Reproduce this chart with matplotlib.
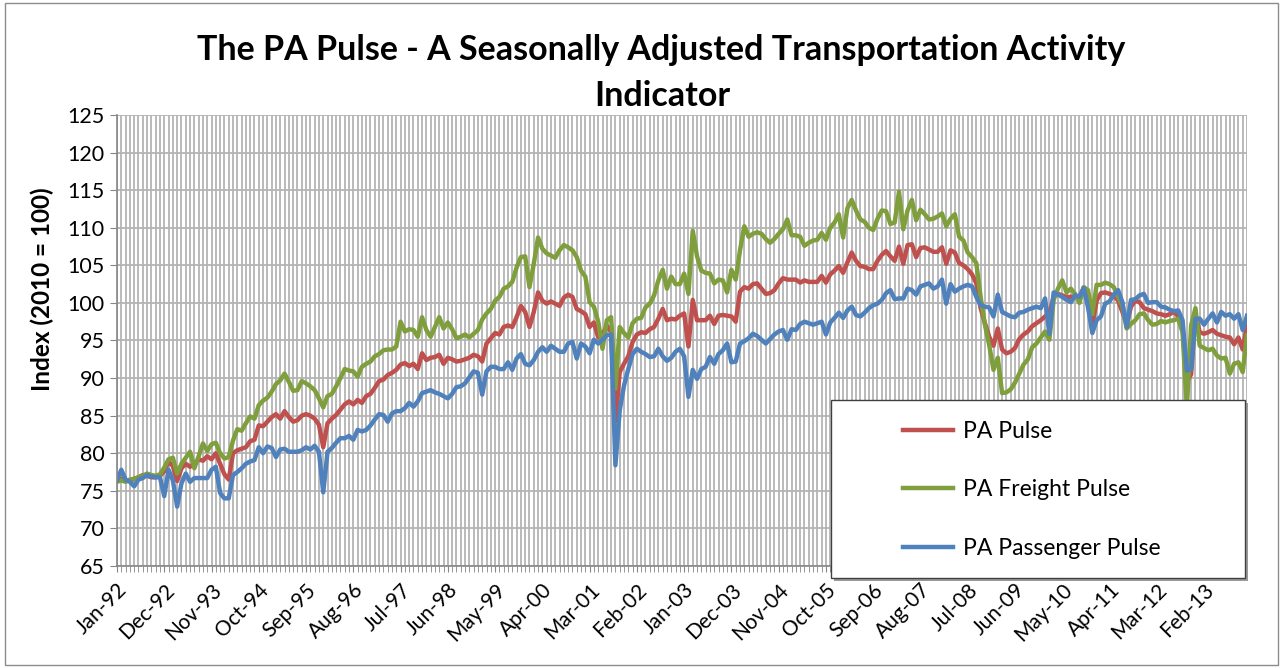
import numpy as np
import pandas as pd
import matplotlib
matplotlib.use('Agg')
import matplotlib.pyplot as plt
from matplotlib.patches import Rectangle

# monthly categories, Jan-92 .. Dec-13
months = pd.date_range('1992-01-01', periods=264, freq='MS')

tick_labels = ['Jan-92', 'Dec-92', 'Nov-93', 'Oct-94', 'Sep-95', 'Aug-96', 'Jul-97', 'Jun-98',
               'May-99', 'Apr-00', 'Mar-01', 'Feb-02', 'Jan-03', 'Dec-03', 'Nov-04', 'Oct-05',
               'Sep-06', 'Aug-07', 'Jul-08', 'Jun-09', 'May-10', 'Apr-11', 'Mar-12', 'Feb-13']

pa_pulse = [
    76.5, 76.6, 76.4, 76.3, 76.6, 76.8, 77.1, 77.0, 76.8, 76.8, 77.0, 77.6,
    78.9, 78.3, 76.3, 78.0, 78.6, 78.2, 78.6, 79.2, 79.0, 79.6, 79.2, 80.0,
    78.6, 77.2, 76.5, 80.0, 80.4, 80.6, 80.8, 81.6, 81.8, 83.7, 83.6, 84.2,
    84.8, 85.2, 84.6, 85.6, 84.8, 84.2, 84.4, 85.0, 85.2, 85.0, 84.6, 83.8,
    80.8, 84.0, 84.6, 85.1, 85.8, 86.5, 86.9, 86.5, 87.1, 86.7, 87.6, 87.9,
    88.7, 89.6, 89.8, 90.4, 90.7, 91.1, 91.8, 92.0, 91.6, 91.9, 91.2, 93.3,
    92.4, 92.7, 92.8, 93.1, 91.9, 92.7, 92.5, 92.2, 92.3, 92.5, 92.7, 93.1,
    92.9, 92.2, 94.6, 95.3, 96.0, 95.8, 96.8, 97.0, 96.8, 98.1, 99.6, 98.8,
    96.8, 98.8, 101.4, 100.3, 99.9, 100.2, 99.9, 99.6, 100.7, 101.1, 100.8, 99.2,
    98.9, 98.5, 96.8, 97.4, 95.4, 95.7, 97.0, 96.1, 84.2, 90.8, 91.9, 92.9,
    94.8, 95.8, 96.1, 96.0, 96.5, 96.8, 97.9, 99.2, 97.7, 97.9, 97.8, 98.3,
    98.6, 94.2, 100.4, 97.7, 97.7, 97.7, 98.3, 97.2, 98.3, 98.4, 98.3, 98.2,
    97.5, 101.5, 102.1, 101.9, 102.5, 102.6, 101.9, 101.2, 101.3, 101.7, 102.6, 103.3,
    103.1, 103.1, 103.1, 102.7, 103.0, 102.8, 102.8, 102.8, 103.6, 102.7, 103.8, 104.3,
    104.9, 104.0, 105.4, 106.7, 105.6, 104.9, 104.8, 104.5, 104.5, 105.6, 106.4, 106.9,
    106.2, 105.6, 107.5, 105.2, 107.7, 107.8, 106.1, 107.3, 107.4, 107.1, 106.8, 106.8,
    107.4, 105.2, 107.0, 106.7, 105.3, 105.0, 104.5, 103.8, 102.6, 99.3, 97.3, 95.5,
    94.3, 96.6, 93.8, 93.3, 93.5, 94.0, 95.2, 95.8, 96.2, 96.9, 97.3, 97.7,
    98.2, 98.6, 100.8, 101.2, 101.0, 100.8, 100.8, 100.9, 100.8, 102.0, 100.1, 97.0,
    100.3, 101.3, 101.4, 101.2, 101.0, 100.3, 98.8, 97.2, 99.5, 100.3, 100.1, 99.3,
    99.1, 98.9, 98.6, 98.5, 98.3, 98.5, 98.8, 98.2, 96.8, 89.5, 90.5, 98.5,
    96.1, 95.9, 96.1, 96.4, 95.9, 95.7, 95.5, 95.4, 94.5, 95.4, 93.8, 97.0,
]

pa_freight = [
    76.2, 76.4, 76.2, 76.5, 76.6, 76.8, 77.0, 77.3, 77.1, 77.0, 77.2, 78.1,
    79.2, 79.4, 77.3, 78.6, 79.4, 80.2, 78.0, 79.6, 81.3, 80.3, 81.2, 81.4,
    80.0, 79.3, 79.5, 81.7, 83.2, 83.0, 84.0, 84.9, 84.6, 86.4, 87.0, 87.4,
    88.2, 89.2, 89.7, 90.6, 89.5, 88.3, 88.4, 89.6, 89.3, 88.9, 88.4, 87.3,
    86.1, 87.6, 87.9, 88.9, 90.0, 91.2, 91.0, 90.9, 90.2, 91.5, 91.9, 92.2,
    92.9, 93.2, 93.7, 93.8, 93.8, 94.2, 97.5, 96.2, 96.5, 96.4, 95.5, 98.1,
    96.4, 95.5, 96.8, 98.1, 96.6, 97.4, 96.5, 95.3, 95.5, 95.8, 95.4, 95.9,
    96.4, 97.8, 98.6, 99.2, 100.3, 100.8, 101.9, 102.2, 102.8, 104.7, 106.1, 106.2,
    102.1, 105.2, 108.7, 107.2, 106.6, 106.3, 106.0, 107.0, 107.7, 107.4, 107.0, 106.1,
    104.3, 103.5, 100.1, 99.5, 97.5, 93.9, 97.7, 98.1, 88.6, 96.8, 96.0, 95.4,
    97.3, 97.9, 98.0, 99.4, 99.9, 101.0, 103.0, 104.4, 101.9, 103.5, 102.5, 102.5,
    103.9, 101.2, 109.6, 106.2, 104.3, 104.0, 103.9, 102.6, 103.1, 103.0, 101.4, 104.4,
    103.1, 107.0, 110.2, 108.8, 109.2, 109.4, 109.2, 108.5, 108.0, 108.5, 109.2, 109.8,
    111.1, 109.0, 109.0, 108.8, 107.6, 108.0, 108.3, 108.4, 109.3, 108.4, 110.0, 110.7,
    111.8, 108.7, 112.6, 113.7, 112.3, 111.1, 110.8, 110.0, 109.7, 111.2, 112.3, 112.2,
    110.5, 110.7, 114.8, 109.8, 112.3, 113.7, 111.0, 112.4, 111.8, 111.1, 111.2, 111.5,
    111.9, 110.2, 111.2, 111.8, 108.8, 108.3, 106.7, 106.1, 105.3, 100.8, 97.1, 94.4,
    91.1, 92.7, 88.0, 88.1, 88.5, 89.4, 90.6, 91.8, 92.5, 94.1, 94.6, 95.4,
    96.2, 95.1, 100.4, 101.9, 103.0, 101.4, 101.9, 101.2, 100.0, 102.1, 101.7, 98.5,
    102.4, 102.4, 102.7, 102.5, 102.1, 100.8, 99.6, 96.6, 97.2, 97.7, 98.5, 98.6,
    97.7, 97.1, 97.2, 97.6, 97.4, 97.6, 97.7, 97.9, 96.1, 86.0, 97.0, 99.3,
    94.3, 94.0, 93.7, 93.9, 93.0, 92.6, 92.7, 90.6, 91.9, 92.1, 90.8, 95.7,
]

pa_passenger = [
    76.4, 77.8, 76.5, 76.2, 75.6, 76.5, 76.7, 77.1, 76.9, 76.8, 76.8, 74.3,
    77.8, 76.4, 72.9, 76.0, 77.3, 76.2, 76.7, 76.7, 76.7, 76.7, 77.8, 78.2,
    74.7, 74.0, 74.0, 77.1, 77.5, 78.0, 78.6, 78.9, 79.1, 80.8, 80.0, 80.9,
    80.7, 79.5, 80.5, 80.6, 80.2, 80.2, 80.2, 80.4, 80.8, 80.5, 81.0, 80.2,
    74.8, 80.2, 80.7, 81.4, 82.0, 82.0, 82.3, 81.8, 83.1, 82.9, 83.1, 83.7,
    84.5, 85.2, 85.1, 84.2, 85.3, 85.6, 85.6, 86.0, 86.7, 86.2, 86.9, 88.0,
    88.2, 88.4, 88.1, 87.9, 87.6, 87.3, 87.9, 88.8, 88.9, 89.3, 90.1, 90.9,
    90.7, 87.8, 90.9, 91.5, 91.5, 91.2, 91.2, 92.1, 91.1, 92.6, 93.2, 91.9,
    91.7, 92.4, 93.5, 94.1, 93.5, 94.3, 93.9, 93.5, 93.5, 94.6, 94.8, 92.6,
    94.6, 94.2, 93.3, 95.1, 94.6, 95.1, 95.7, 95.8, 78.4, 85.7, 89.0, 91.2,
    93.2, 93.9, 93.5, 93.2, 92.8, 92.9, 93.9, 92.9, 92.3, 92.7, 93.5, 93.9,
    92.9, 87.5, 91.1, 89.9, 91.2, 91.5, 92.8, 91.9, 93.2, 93.7, 94.6, 92.1,
    92.2, 94.6, 94.9, 95.3, 95.9, 95.6, 95.1, 94.6, 95.2, 95.8, 96.2, 96.4,
    95.1, 96.5, 96.4, 97.2, 97.5, 97.3, 97.1, 97.3, 97.5, 95.8, 97.4, 98.0,
    98.7, 98.0, 99.0, 99.5, 98.4, 98.2, 98.7, 99.3, 99.7, 99.9, 100.4, 101.3,
    101.7, 100.5, 100.6, 100.6, 101.9, 101.7, 101.1, 102.2, 102.4, 102.6, 101.9, 102.2,
    103.1, 99.9, 102.5, 101.5, 101.9, 102.2, 102.4, 102.2, 100.8, 99.7, 99.5, 99.4,
    98.2, 101.1, 98.8, 98.5, 98.2, 98.1, 98.7, 98.8, 99.1, 99.3, 99.5, 99.3,
    100.6, 95.9, 101.4, 101.1, 100.8, 100.4, 100.1, 101.0, 100.8, 102.0, 99.4, 96.0,
    97.7, 98.2, 99.9, 100.2, 101.1, 101.7, 100.1, 96.8, 100.4, 100.5, 101.0, 101.2,
    100.0, 100.1, 100.1, 99.5, 99.4, 99.1, 98.9, 99.0, 97.7, 91.0, 91.2, 97.9,
    97.9, 97.1, 97.9, 98.6, 97.4, 98.8, 98.3, 98.5, 97.9, 98.5, 96.4, 98.3,
]

plt.rcParams['font.family'] = ['Lato', 'DejaVu Sans']

fig = plt.figure(figsize=(12.83, 6.68), dpi=100)
ax = fig.add_axes([117/1283, 1-566/668, 1130/1283, 451/668])

x = np.arange(len(months))
grid_c = '#b4b4b4'
ax.set_xlim(0, len(months) - 1)
ax.set_ylim(65, 125)
ax.set_yticks(np.arange(65, 126, 5))
ax.set_xticks(x, minor=True)
ax.set_xticks(np.arange(len(tick_labels)) * 11)
ax.set_xticklabels(tick_labels, rotation=45, ha='right', rotation_mode='anchor', fontsize=15)
ax.tick_params(axis='y', labelsize=15.5, length=5, color='#868686', pad=4)
ax.tick_params(axis='x', which='both', length=4, color='#868686', pad=6)
ax.grid(True, which='minor', axis='x', color=grid_c, lw=1.3)
ax.grid(True, which='major', axis='x', color=grid_c, lw=1.3)
ax.grid(True, which='major', axis='y', color=grid_c, lw=1.3)
ax.set_axisbelow(True)
for s in ['top', 'right']:
    ax.spines[s].set_visible(False)
for s in ['left', 'bottom']:
    ax.spines[s].set_color('#868686')
    ax.spines[s].set_linewidth(1.2)

ax.plot(x, pa_pulse, color='#C0504D', lw=3.2, label='PA Pulse', solid_joinstyle='round')
ax.plot(x, pa_freight, color='#7F9F3C', lw=3.2, label='PA Freight Pulse', solid_joinstyle='round')
ax.plot(x, pa_passenger, color='#4F81BD', lw=3.2, label='PA Passenger Pulse', solid_joinstyle='round')

# axis title sits a bit above the plot centre, as in the original
fig.text(42/1283, 1-289/668, 'Index (2010 = 100)', rotation=90, ha='center', va='center',
         fontsize=17.5, fontweight='bold')

fig.text(661/1283, 1-50/668, 'The PA Pulse - A Seasonally Adjusted Transportation Activity',
         ha='center', va='center', fontsize=24.5, fontweight='bold')
fig.text(662/1283, 1-96/668, 'Indicator', ha='center', va='center', fontsize=24.5, fontweight='bold')

# legend box (fixed size, with a light shadow)
shadow = Rectangle((834/1283, 1-581/668), 414/1283, 178/668, transform=fig.transFigure,
                   facecolor='#9a9a9a', edgecolor='none', zorder=9)
box = Rectangle((831/1283, 1-578/668), 414/1283, 178/668, transform=fig.transFigure,
                facecolor='white', edgecolor='#404040', lw=1.0, zorder=10)
fig.patches.extend([shadow, box])
leg = fig.legend(loc='center left', bbox_to_anchor=(903/1283, 1-490/668), frameon=False,
                 fontsize=16.5, handlelength=2.2, handletextpad=0.4, labelspacing=1.62,
                 borderpad=0, borderaxespad=0)
leg.set_zorder(11)

# chart border
fig.patches.append(Rectangle((0.004, 0.004), 0.992, 0.992, transform=fig.transFigure,
                             facecolor='none', edgecolor='#8c8c8c', lw=1.0))

fig.savefig('out.png', dpi=100)
